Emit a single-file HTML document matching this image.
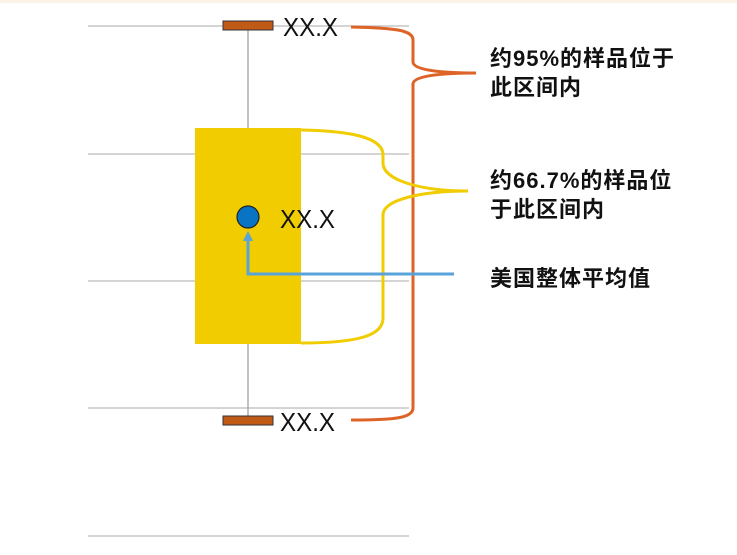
<!DOCTYPE html>
<html><head><meta charset="utf-8"><style>
html,body{margin:0;padding:0;background:#fff;}
body{width:737px;height:555px;position:relative;overflow:hidden;}
.t{position:absolute;font-family:"Liberation Sans","Noto Sans CJK SC",sans-serif;font-weight:bold;font-size:22px;letter-spacing:1px;line-height:29px;color:#111;white-space:nowrap;}
</style></head><body>
<div style="position:absolute;left:0;top:0;width:737px;height:3px;background:#fbf3e8"></div>
<svg width="737" height="555" style="position:absolute;left:0;top:0">
<g stroke="#bbbbbb" stroke-width="1.2">
<line x1="88" y1="26" x2="409" y2="26"/>
<line x1="88" y1="154" x2="409" y2="154"/>
<line x1="88" y1="281" x2="409" y2="281"/>
<line x1="88" y1="408" x2="409" y2="408"/>
<line x1="88" y1="536" x2="409" y2="536"/>
</g>
<line x1="248" y1="26" x2="248" y2="420" stroke="#999" stroke-width="1.2"/>
<rect x="195" y="128" width="106" height="216" fill="#f0cc00"/>
<rect x="223" y="21" width="50" height="9" fill="#c05a17" stroke="#333" stroke-width="1"/>
<rect x="223" y="416" width="50" height="9" fill="#c05a17" stroke="#333" stroke-width="1"/>
<path d="M351 27 C395 28 413 30 413 40 L413 62 C413 70 440 73 476 73 C440 73 413 76 413 84 L413 408 C413 418 395 420 351 420" fill="none" stroke="#dd6326" stroke-width="3"/>
<path d="M301 130 C360 131 383 140 383 155 L383 163 C383 180 420 191 468 191 C420 191 383 200 383 215 L383 318 C383 335 360 343 301 343" fill="none" stroke="#f0cc00" stroke-width="3"/>
<path d="M248 240 L248 274 L454 274" fill="none" stroke="#5aa3d8" stroke-width="3"/>
<polygon points="248,231 243,241 253,241" fill="#5aa3d8"/>
<circle cx="248" cy="217" r="11" fill="#0a74c4" stroke="#222" stroke-width="1.2"/>
<g font-family="Liberation Sans, sans-serif" font-size="26" fill="#111">
<text x="283" y="36" textLength="55" lengthAdjust="spacingAndGlyphs">XX.X</text>
<text x="280" y="228" textLength="55" lengthAdjust="spacingAndGlyphs">XX.X</text>
<text x="280" y="431" textLength="55" lengthAdjust="spacingAndGlyphs">XX.X</text>
</g>
</svg>
<div class="t" style="left:490px;top:44px">约95%的样品位于<br>此区间内</div>
<div class="t" style="left:490px;top:166px">约66.7%的样品位<br>于此区间内</div>
<div class="t" style="left:490px;top:264px">美国整体平均值</div>
</body></html>
